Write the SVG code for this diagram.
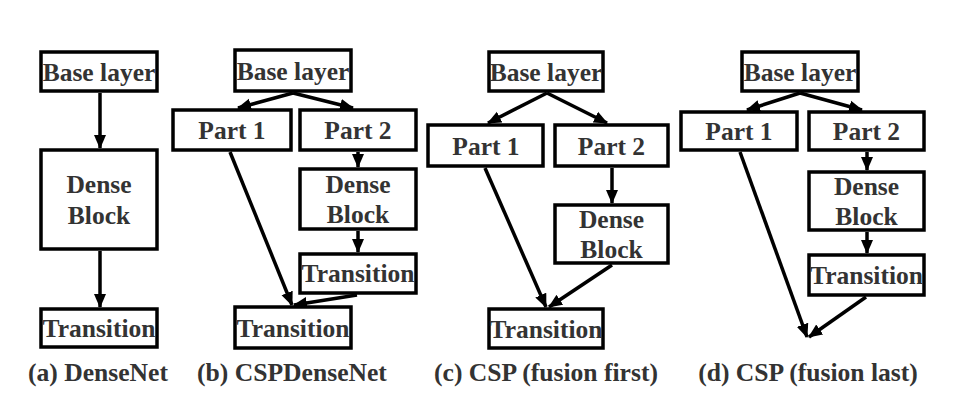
<svg xmlns="http://www.w3.org/2000/svg" width="956" height="402" viewBox="0 0 956 402">
<style>
.box{fill:#fff;stroke:#000;stroke-width:3.5}
.t{font-family:"Liberation Serif","Times New Roman",serif;font-weight:bold;font-size:25.5px;fill:#333;text-anchor:middle}
.cap{font-family:"Liberation Serif","Times New Roman",serif;font-weight:bold;font-size:25.6px;fill:#333;text-anchor:middle}
.c{fill:none;stroke:#000;stroke-width:3.5;marker-end:url(#ah)}
</style>
<defs>
<marker id="ah" markerUnits="userSpaceOnUse" viewBox="0 -6.5 14 13" refX="13" refY="0" markerWidth="14" markerHeight="13" orient="auto">
<path d="M0,-6 L14,0 L0,6 z" fill="#000"/>
</marker>
</defs>
<rect width="956" height="402" fill="#fff"/>
<g id="connectors">
<line class="c" x1="100" y1="93" x2="100" y2="148"/>
<line class="c" x1="100" y1="251" x2="100" y2="307"/>
<line class="c" x1="293" y1="93" x2="238" y2="108"/>
<line class="c" x1="293" y1="93" x2="353" y2="108"/>
<line class="c" x1="358" y1="152" x2="358" y2="167"/>
<line class="c" x1="358" y1="231" x2="358" y2="252"/>
<line class="c" x1="230" y1="152" x2="292" y2="305"/>
<line class="c" x1="357" y1="295" x2="294" y2="305"/>
<line class="c" x1="547" y1="93" x2="488" y2="123"/>
<line class="c" x1="547" y1="93" x2="607" y2="123"/>
<line class="c" x1="612" y1="168" x2="612" y2="203"/>
<line class="c" x1="485" y1="168" x2="546" y2="307"/>
<line class="c" x1="612" y1="265" x2="549" y2="307"/>
<line class="c" x1="800" y1="93" x2="747" y2="110"/>
<line class="c" x1="800" y1="93" x2="862" y2="110"/>
<line class="c" x1="867" y1="152" x2="867" y2="170"/>
<line class="c" x1="867" y1="232" x2="867" y2="253"/>
<line class="c" x1="740" y1="152" x2="807" y2="337"/>
<line class="c" x1="866" y1="297" x2="809" y2="337"/>
</g>
<g id="a-base"><rect class="box" x="41" y="52" width="116" height="39"/><text class="t" x="99" y="81">Base layer</text></g>
<g id="a-dense"><rect class="box" x="41" y="150" width="116" height="99"/><text class="t" x="99" y="193">Dense</text><text class="t" x="99" y="224">Block</text></g>
<g id="a-trans"><rect class="box" x="41" y="309" width="116" height="38"/><text class="t" x="99" y="337">Transition</text></g>
<g id="b-base"><rect class="box" x="235" y="50" width="116" height="41"/><text class="t" x="293" y="80">Base layer</text></g>
<g id="b-part1"><rect class="box" x="173" y="110" width="118" height="40"/><text class="t" x="232" y="139">Part 1</text></g>
<g id="b-part2"><rect class="box" x="300" y="110" width="116" height="40"/><text class="t" x="358" y="139">Part 2</text></g>
<g id="b-dense"><rect class="box" x="300" y="169" width="116" height="60"/><text class="t" x="358" y="193">Dense</text><text class="t" x="358" y="223">Block</text></g>
<g id="b-trans1"><rect class="box" x="300" y="254" width="116" height="39"/><text class="t" x="358" y="282">Transition</text></g>
<g id="b-trans2"><rect class="box" x="235" y="307" width="116" height="41"/><text class="t" x="293" y="337">Transition</text></g>
<g id="c-base"><rect class="box" x="489" y="52" width="114" height="39"/><text class="t" x="546" y="81">Base layer</text></g>
<g id="c-part1"><rect class="box" x="428" y="125" width="115" height="41"/><text class="t" x="486" y="155">Part 1</text></g>
<g id="c-part2"><rect class="box" x="555" y="125" width="113" height="41"/><text class="t" x="611.5" y="155">Part 2</text></g>
<g id="c-dense"><rect class="box" x="555" y="205" width="113" height="58"/><text class="t" x="611.5" y="228">Dense</text><text class="t" x="611.5" y="258">Block</text></g>
<g id="c-trans"><rect class="box" x="489" y="309" width="114" height="39"/><text class="t" x="546" y="338">Transition</text></g>
<g id="d-base"><rect class="box" x="742" y="52" width="116" height="39"/><text class="t" x="800" y="81">Base layer</text></g>
<g id="d-part1"><rect class="box" x="681" y="112" width="116" height="38"/><text class="t" x="739" y="140">Part 1</text></g>
<g id="d-part2"><rect class="box" x="809" y="112" width="115" height="38"/><text class="t" x="866.5" y="140">Part 2</text></g>
<g id="d-dense"><rect class="box" x="809" y="172" width="115" height="58"/><text class="t" x="866.5" y="195">Dense</text><text class="t" x="866.5" y="225">Block</text></g>
<g id="d-trans"><rect class="box" x="809" y="255" width="115" height="40"/><text class="t" x="866.5" y="284">Transition</text></g>
<g id="captions">
<text class="cap" x="98" y="381">(a) DenseNet</text>
<text class="cap" x="292" y="381">(b) CSPDenseNet</text>
<text class="cap" x="546" y="381">(c) CSP (fusion first)</text>
<text class="cap" x="808" y="381">(d) CSP (fusion last)</text>
</g>
</svg>
